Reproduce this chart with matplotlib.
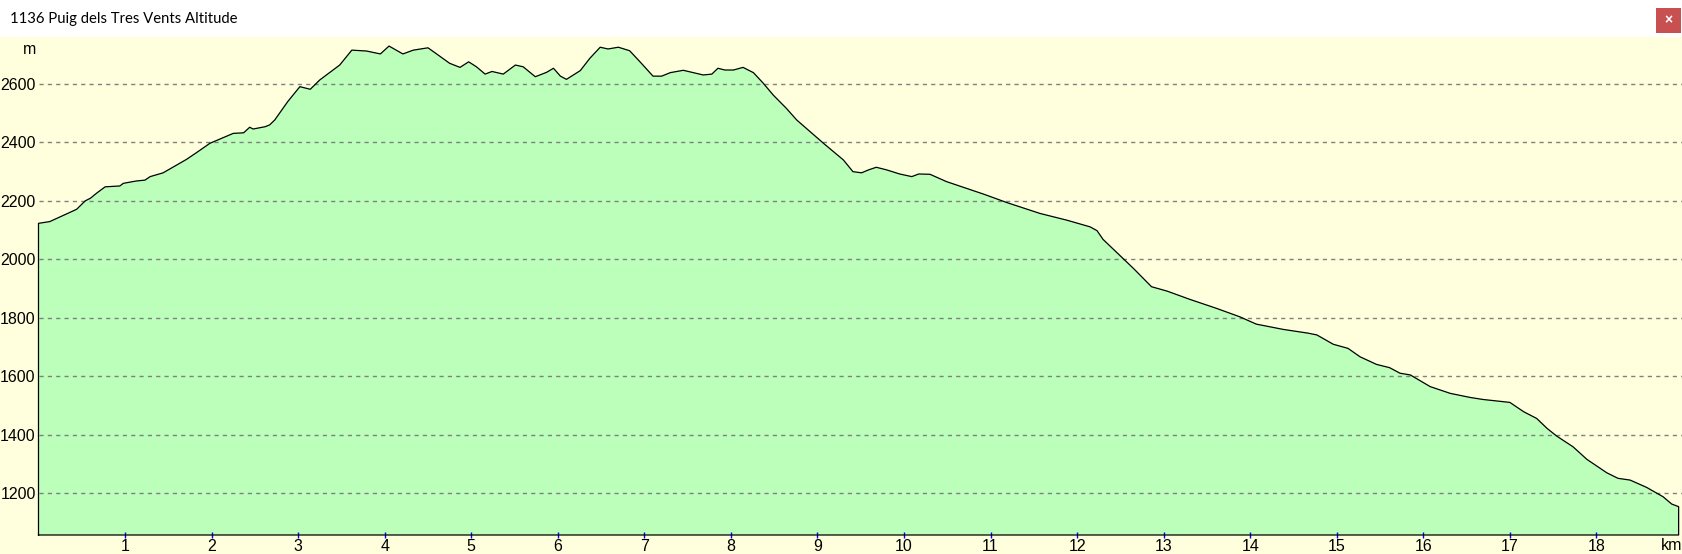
import matplotlib
matplotlib.use("Agg")
import matplotlib.pyplot as plt
from matplotlib.patches import Rectangle

# Perfil d'altitud (km, m)
distancia = [0.00, 0.13, 0.44, 0.54, 0.60, 0.67, 0.77, 0.94, 0.98, 1.13, 1.23, 1.29,
             1.44, 1.71, 1.83, 1.98, 2.25, 2.37, 2.44, 2.48, 2.62, 2.67, 2.73, 2.88,
             3.02, 3.14, 3.25, 3.48, 3.62, 3.79, 3.95, 4.05, 4.21, 4.33, 4.50, 4.60,
             4.75, 4.87, 4.97, 5.06, 5.16, 5.24, 5.37, 5.51, 5.60, 5.74, 5.87, 5.95,
             6.03, 6.10, 6.26, 6.37, 6.49, 6.58, 6.70, 6.83, 6.95, 7.10, 7.20, 7.30,
             7.45, 7.68, 7.78, 7.85, 7.93, 8.03, 8.14, 8.26, 8.37, 8.49, 8.64, 8.76,
             9.07, 9.30, 9.41, 9.51, 9.59, 9.68, 9.80, 9.95, 10.09, 10.17, 10.30,
             10.49, 10.72, 10.92, 11.19, 11.57, 11.88, 12.15, 12.23, 12.30, 12.53,
             12.65, 12.86, 13.04, 13.30, 13.61, 13.88, 14.07, 14.38, 14.67, 14.77,
             14.96, 15.13, 15.27, 15.46, 15.61, 15.73, 15.85, 16.08, 16.31, 16.54,
             16.69, 17.00, 17.16, 17.31, 17.43, 17.54, 17.73, 17.89, 18.12, 18.25,
             18.39, 18.58, 18.77, 18.87, 18.95]
altitud = [2123, 2129, 2171, 2200, 2209, 2226, 2248, 2251, 2260, 2268, 2271, 2283,
           2296, 2342, 2366, 2397, 2431, 2433, 2452, 2446, 2454, 2460, 2477, 2540,
           2591, 2582, 2614, 2665, 2716, 2713, 2703, 2730, 2703, 2716, 2724, 2703,
           2671, 2657, 2676, 2659, 2634, 2643, 2634, 2665, 2659, 2625, 2640, 2654,
           2627, 2616, 2646, 2688, 2726, 2720, 2726, 2714, 2676, 2627, 2627, 2639,
           2647, 2631, 2634, 2654, 2648, 2648, 2657, 2639, 2604, 2562, 2517, 2477,
           2397, 2340, 2300, 2296, 2306, 2315, 2306, 2292, 2283, 2292, 2291,
           2266, 2243, 2223, 2194, 2157, 2134, 2111, 2098, 2068, 2003,
           1969, 1906, 1891, 1863, 1832, 1803, 1778, 1760, 1747, 1741,
           1709, 1695, 1666, 1640, 1629, 1610, 1604, 1564, 1541, 1527,
           1520, 1510, 1478, 1455, 1421, 1395, 1358, 1315, 1269, 1250,
           1244, 1219, 1187, 1162, 1153]

km_ticks = list(range(1, 19))
alt_ticks = [1200, 1400, 1600, 1800, 2000, 2200, 2400, 2600]
titol = "1136 Puig dels Tres Vents Altitude"

groc = "#FFFFDD"
verd = "#BBFFBB"
W, H = 1682, 554
y_min, y_max = 1056, 2761

fig = plt.figure(figsize=(W / 100, H / 100), dpi=100, facecolor=groc)
plt.rcParams["font.family"] = ["Liberation Sans", "DejaVu Sans"]

# barra de títol
fig.patches.append(Rectangle((0, 1 - 37 / H), 1, 37 / H, transform=fig.transFigure,
                             facecolor="white", edgecolor="none"))
fig.text(10 / W, 1 - 19 / H, titol, fontsize=10.7, family="Lato", va="center", ha="left")
fig.patches.append(Rectangle((1656 / W, 1 - 33 / H), 25 / W, 25 / H, transform=fig.transFigure,
                             facecolor="#C75050", edgecolor="none"))
fig.text(1668.5 / W, 1 - 20.5 / H, "×", color="white", fontsize=10, fontweight="bold",
         ha="center", va="center")

ax = fig.add_axes([38.5 / W, 19 / H, (W - 38.5) / W, 498 / H])
ax.set_facecolor(groc)
ax.set_xlim(0, (W - 38.5) / 86.55)
ax.set_ylim(y_min, y_max)
for s in ax.spines.values():
    s.set_visible(False)

xs = [0] + distancia + [distancia[-1]]
ys = [y_min] + altitud + [y_min]
ax.fill(xs, ys, color=verd, lw=0, zorder=1)
for a in alt_ticks:
    ax.axhline(a, color="#808080", lw=1, ls=(0, (3, 3)), zorder=2)
ax.plot(xs + [0], ys + [y_min], color="black", lw=0.9, zorder=3, clip_on=False)

ax.set_xticks(km_ticks)
ax.set_xticklabels([str(k) for k in km_ticks], fontsize=11.5)
ax.set_yticks(alt_ticks)
ax.set_yticklabels([str(a) for a in alt_ticks], fontsize=11.5)
ax.tick_params(axis="x", direction="inout", length=4, width=1, color="blue", pad=1)
ax.tick_params(axis="y", length=0, pad=2)

fig.text(30 / W, 1 - 50 / H, "m", fontsize=11.5, ha="center", va="center")
fig.text(1672 / W, 1 - 546 / H, "km", fontsize=11.5, ha="center", va="center")

fig.savefig("out.png", dpi=100, facecolor=groc)
